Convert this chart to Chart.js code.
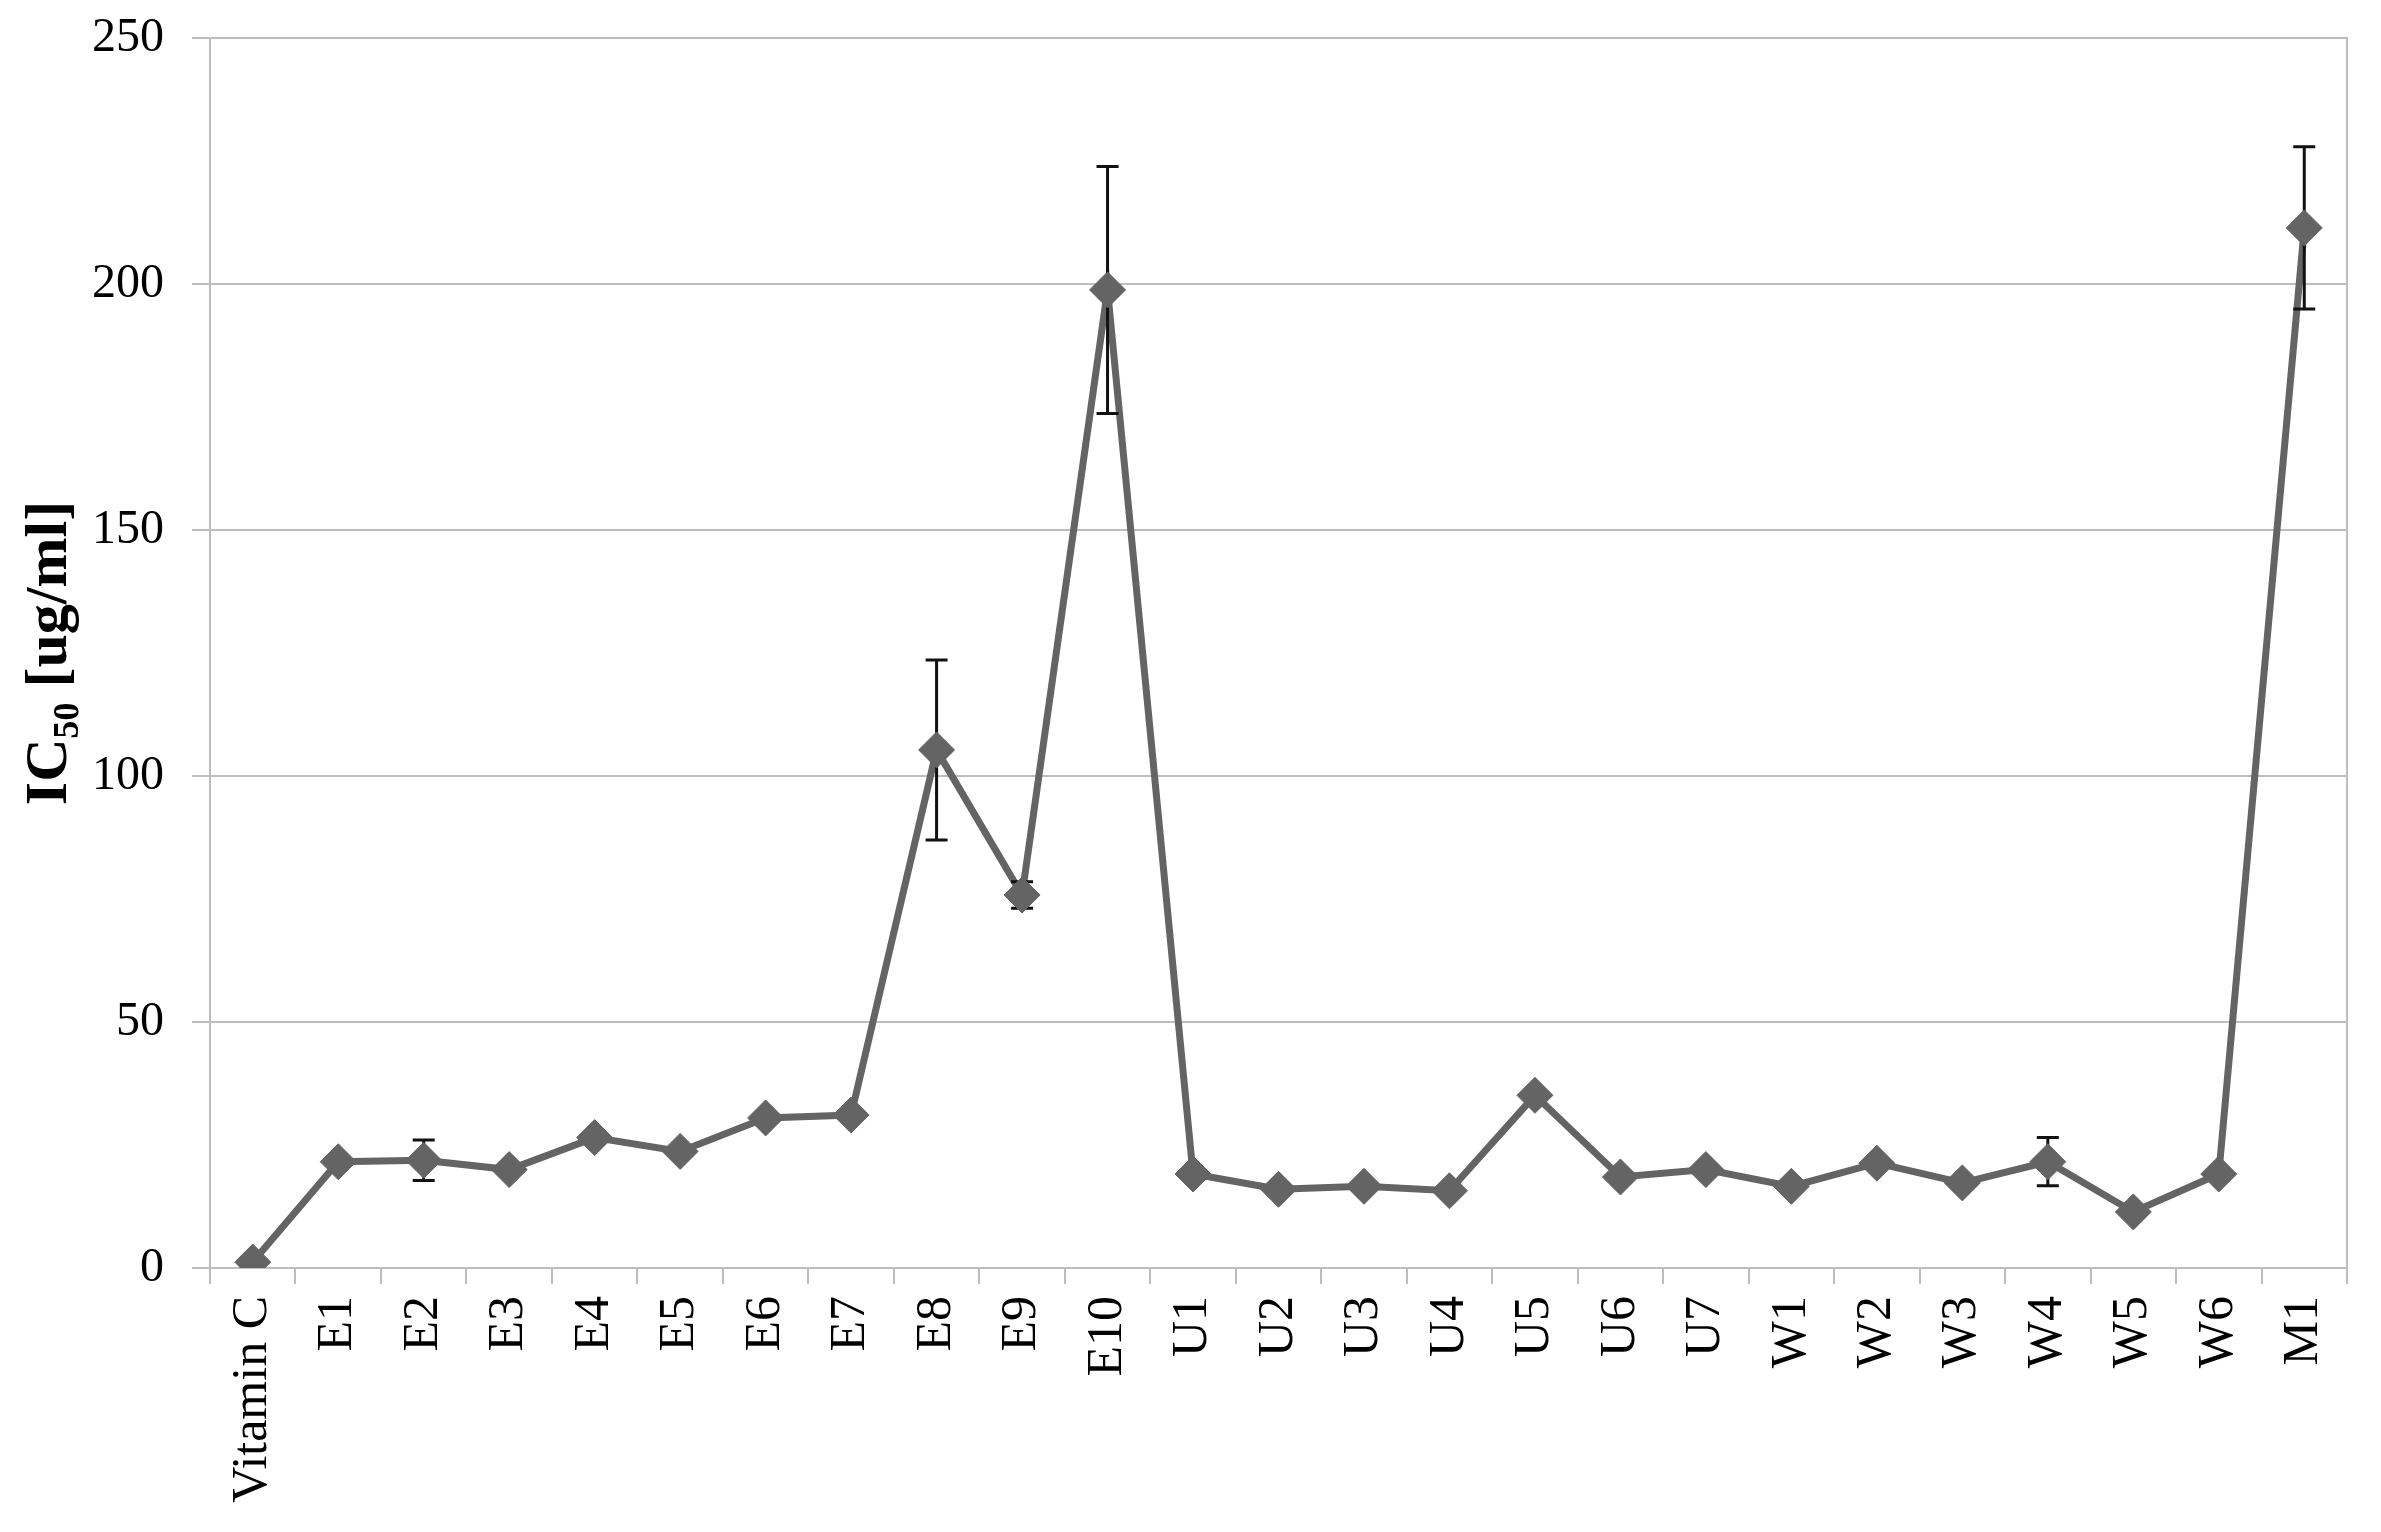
<!DOCTYPE html>
<html>
<head>
<meta charset="utf-8">
<script src="https://cdn.jsdelivr.net/npm/chart.js@4/dist/chart.umd.min.js"></script>
<style>
  html, body { margin: 0; padding: 0; background: #fff; }
  #wrap { width: 2381px; height: 1532px; }
</style>
</head>
<body>
<div id="wrap"><canvas id="c" width="2381" height="1532"></canvas></div>
<script>
const categories = ["Vitamin C","E1","E2","E3","E4","E5","E6","E7","E8","E9","E10",
  "U1","U2","U3","U4","U5","U6","U7","W1","W2","W3","W4","W5","W6","M1"];
const ic50 = [1.2, 21.6, 21.9, 20.0, 26.5, 23.7, 30.5, 31.1, 105.3, 75.8, 198.8,
  19.1, 16.0, 16.6, 15.7, 35.1, 18.5, 20.0, 16.6, 21.3, 17.3, 21.6, 11.4, 19.1, 211.4];
const errors = [0, 0, 4.1, 0, 0, 0, 0, 0, 18.3, 2.7, 25.1,
  0, 0, 0, 0, 0, 0, 0, 0, 0, 0, 4.9, 0, 0, 16.5];
const yTicks = [0, 50, 100, 150, 200, 250];

const LINE = '#646464';
const GRID = '#bdbdbd';
const FONT = "'Liberation Serif', 'DejaVu Serif', serif";

function noPad(s) { s.paddingTop = 0; s.paddingBottom = 0; s.paddingLeft = 0; s.paddingRight = 0; }

const errorBars = {
  id: 'errorBars',
  afterDatasetDraw(chart, args) {
    if (args.index !== 0) return;
    const ctx = chart.ctx, x = chart.scales.x, y = chart.scales.y;
    ctx.save();
    ctx.strokeStyle = '#111';
    ctx.lineWidth = 3;
    errors.forEach((e, i) => {
      if (!e) return;
      const px = x.getPixelForValue(i);
      const top = y.getPixelForValue(ic50[i] + e);
      const bot = y.getPixelForValue(ic50[i] - e);
      ctx.beginPath();
      ctx.moveTo(px, top); ctx.lineTo(px, bot);
      ctx.moveTo(px - 11, top); ctx.lineTo(px + 11, top);
      ctx.moveTo(px - 11, bot); ctx.lineTo(px + 11, bot);
      ctx.stroke();
    });
    ctx.restore();
  }
};

new Chart(document.getElementById('c'), {
  type: 'line',
  data: {
    labels: categories,
    datasets: [
      { data: ic50, borderColor: LINE, borderWidth: 7, pointRadius: 0, tension: 0, order: 1, fill: false },
      { data: ic50, showLine: false, pointStyle: 'rectRot', pointRadius: 18,
        pointBackgroundColor: LINE, pointBorderColor: LINE, pointBorderWidth: 1, order: 0 }
    ]
  },
  options: {
    responsive: false,
    animation: false,
    layout: { padding: { top: 38, left: 0, right: 0, bottom: 0 } },
    plugins: { legend: { display: false }, tooltip: { enabled: false } },
    scales: {
      x: {
        type: 'category',
        offset: true,
        grid: { display: true, drawOnChartArea: false, drawTicks: true, tickLength: 16, color: GRID, lineWidth: 2, offset: true },
        border: { display: true, color: GRID, width: 2 },
        ticks: { color: '#000', font: { family: FONT, size: 50 }, minRotation: 90, maxRotation: 90, autoSkip: false, padding: 12 },
        afterFit(s) { s.height = 1532 - 1268; noPad(s); }
      },
      y: {
        min: 0, max: 250,
        afterBuildTicks(s) { s.ticks = yTicks.map(v => ({ value: v })); },
        grid: { color: GRID, lineWidth: 2, tickLength: 18 },
        border: { display: true, color: GRID, width: 2 },
        ticks: { color: '#000', font: { family: FONT, size: 48 }, padding: 28 },
        title: { display: true, text: 'IC₅₀ [ug/ml]', color: '#000', font: { family: FONT, size: 60, weight: 'bold' }, padding: { top: 14, bottom: 0 } },
        afterFit(s) { s.width = 210; noPad(s); }
      },
      y2: {
        position: 'right',
        min: 0, max: 250,
        grid: { display: false },
        border: { display: true, color: GRID, width: 2 },
        ticks: { display: false },
        afterFit(s) { s.width = 2381 - 2347; noPad(s); }
      }
    }
  },
  plugins: [errorBars]
});
</script>
</body>
</html>
